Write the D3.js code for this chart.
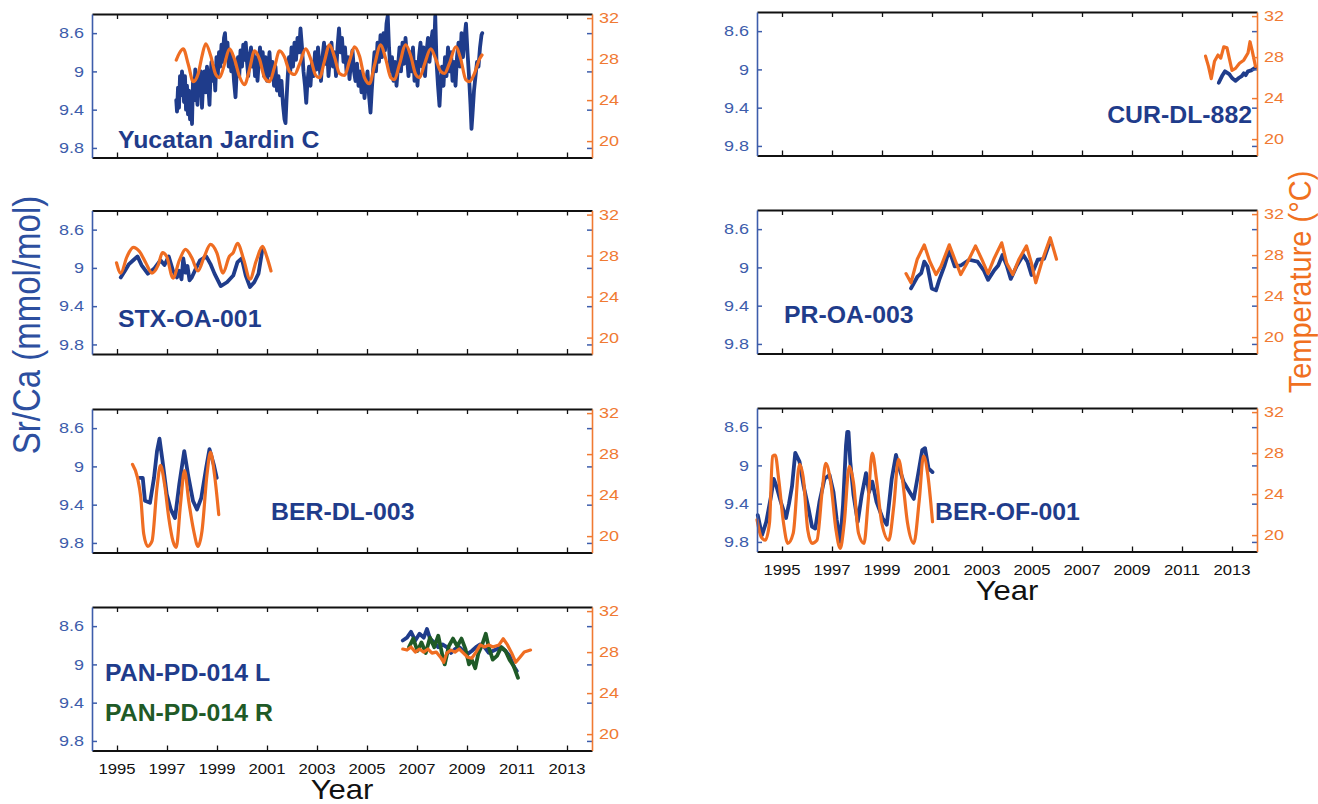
<!DOCTYPE html>
<html>
<head>
<meta charset="utf-8">
<script src="https://cdn.jsdelivr.net/npm/d3@7"></script>
<style>
  html, body { margin: 0; padding: 0; background: #fff; }
  svg { display: block; }
  text { font-family: "Liberation Sans", Arial, Helvetica, sans-serif; }
</style>
</head>
<body>
<svg id="chart" width="1318" height="804"></svg>
<script>
// ---- axis ticks ----
const yearTicks = [1995, 1997, 1999, 2001, 2003, 2005, 2007, 2009, 2011, 2013];
const srcaTicks = [8.6, 9, 9.4, 9.8];
const tempTicks = [20, 24, 28, 32];

// ---- coral records: [decimal year, Sr/Ca mmol/mol] and [decimal year, temperature °C] ----
const yucatanSrCa = [
  [1997.37,9.30],[1997.40,9.42],[1997.44,9.17],[1997.48,9.38],[1997.52,9.05],[1997.56,9.25],[1997.60,9.00],[1997.64,9.10],
  [1997.68,9.32],[1997.72,9.05],[1997.76,9.40],[1997.80,9.15],[1997.84,9.45],[1997.88,9.20],[1997.92,9.50],[1997.96,9.25],
  [1998.00,9.55],[1998.04,9.10],[1998.08,9.30],[1998.13,8.98],[1998.18,9.20],[1998.22,9.35],[1998.27,9.05],[1998.32,9.25],
  [1998.36,9.00],[1998.40,9.38],[1998.45,9.10],[1998.50,9.00],[1998.55,9.22],[1998.60,8.95],[1998.65,9.15],[1998.70,9.35],
  [1998.74,9.05],[1998.78,8.90],[1998.83,9.10],[1998.88,8.95],[1998.93,9.20],[1998.98,8.85],[1999.03,9.05],[1999.08,8.80],
  [1999.13,8.95],[1999.18,8.72],[1999.23,8.90],[1999.28,8.65],[1999.32,8.60],[1999.37,8.85],[1999.42,8.70],[1999.47,8.95],
  [1999.52,8.80],[1999.57,9.00],[1999.62,8.85],[1999.68,9.10],[1999.74,9.27],[1999.79,9.00],[1999.84,8.85],[1999.89,9.05],
  [1999.94,8.78],[2000.00,8.95],[2000.05,8.72],[2000.10,8.88],[2000.15,8.70],[2000.20,8.90],[2000.25,9.05],[2000.30,8.85],
  [2000.36,8.75],[2000.41,8.95],[2000.46,8.80],[2000.52,9.05],[2000.57,8.85],[2000.62,9.10],[2000.67,8.90],[2000.72,8.75],
  [2000.78,8.95],[2000.83,8.80],[2000.88,9.05],[2000.94,8.85],[2001.00,9.10],[2001.05,8.95],[2001.10,8.80],[2001.16,9.05],
  [2001.22,8.90],[2001.28,9.15],[2001.34,8.95],[2001.40,9.20],[2001.46,9.05],[2001.52,9.25],[2001.58,9.10],[2001.64,9.35],
  [2001.70,9.50],[2001.74,9.54],[2001.78,9.30],[2001.83,9.05],[2001.88,8.85],[2001.93,9.00],[2001.98,8.75],[2002.04,8.95],
  [2002.10,8.70],[2002.16,8.88],[2002.22,8.65],[2002.28,8.80],[2002.34,8.55],[2002.40,8.75],[2002.46,9.00],[2002.52,9.15],
  [2002.57,9.33],[2002.62,9.10],[2002.68,8.95],[2002.74,9.15],[2002.80,8.90],[2002.86,9.05],[2002.92,8.80],[2002.98,8.98],
  [2003.04,8.75],[2003.10,8.95],[2003.16,9.10],[2003.22,8.85],[2003.28,8.70],[2003.34,8.92],[2003.40,8.75],[2003.46,9.05],
  [2003.52,8.85],[2003.58,8.70],[2003.64,8.95],[2003.70,8.80],[2003.76,9.05],[2003.82,8.75],[2003.88,8.55],[2003.94,8.80],
  [2004.00,8.65],[2004.06,8.90],[2004.12,8.75],[2004.18,9.00],[2004.24,8.85],[2004.30,9.08],[2004.36,8.90],[2004.42,8.78],
  [2004.48,9.00],[2004.54,9.10],[2004.60,8.92],[2004.66,9.15],[2004.72,9.00],[2004.78,9.22],[2004.84,9.05],[2004.90,9.28],
  [2004.96,9.12],[2005.02,9.00],[2005.08,9.25],[2005.14,9.43],[2005.19,9.20],[2005.24,9.00],[2005.30,8.80],[2005.36,9.00],
  [2005.42,8.70],[2005.48,8.90],[2005.54,8.62],[2005.60,8.85],[2005.66,8.60],[2005.72,8.78],[2005.78,8.50],[2005.83,8.42],
  [2005.88,8.75],[2005.94,9.00],[2006.00,8.85],[2006.06,9.10],[2006.12,8.90],[2006.18,9.15],[2006.24,8.95],[2006.30,8.75],
  [2006.36,9.00],[2006.42,8.70],[2006.48,8.92],[2006.54,8.65],[2006.60,8.85],[2006.66,9.05],[2006.72,8.80],[2006.78,9.00],
  [2006.84,8.75],[2006.90,9.10],[2006.96,8.90],[2007.02,9.15],[2007.08,8.85],[2007.14,8.70],[2007.20,8.95],[2007.26,8.75],
  [2007.32,9.05],[2007.38,8.80],[2007.44,8.65],[2007.50,8.90],[2007.56,8.70],[2007.62,8.58],[2007.68,8.80],[2007.73,8.42],
  [2007.78,8.90],[2007.84,9.15],[2007.90,9.36],[2007.95,9.10],[2008.00,8.95],[2008.06,9.15],[2008.12,8.85],[2008.18,9.05],
  [2008.24,8.75],[2008.30,9.00],[2008.36,8.80],[2008.42,9.10],[2008.48,8.90],[2008.54,9.15],[2008.60,8.85],[2008.66,8.70],
  [2008.72,8.95],[2008.78,8.60],[2008.84,8.85],[2008.90,8.65],[2008.96,8.50],[2009.02,8.80],[2009.08,9.05],[2009.14,9.35],
  [2009.18,9.60],[2009.22,9.45],[2009.28,9.20],[2009.34,9.05],[2009.40,8.90],[2009.46,8.95],[2009.52,8.75],[2009.58,8.62],
  [2009.61,8.60]
];
const yucatanSST = [
  [1997.37,27.9],[1997.50,28.6],[1997.65,29.0],[1997.85,27.5],[1998.05,25.8],[1998.25,26.6],[1998.40,28.3],[1998.55,29.5],
  [1998.75,28.3],[1998.95,26.5],[1999.10,26.2],[1999.30,27.5],[1999.50,29.0],[1999.70,28.0],[1999.90,26.3],[2000.10,25.5],
  [2000.30,27.0],[2000.50,28.8],[2000.70,28.0],[2000.90,26.2],[2001.10,25.8],[2001.30,27.2],[2001.50,28.8],[2001.70,28.2],
  [2001.90,26.8],[2002.10,26.5],[2002.30,27.5],[2002.55,29.0],[2002.75,28.0],[2002.95,26.4],[2003.10,26.2],[2003.30,27.8],
  [2003.50,29.4],[2003.70,28.2],[2003.90,26.6],[2004.10,26.4],[2004.30,27.8],[2004.50,29.2],[2004.70,28.3],[2004.90,26.2],
  [2005.10,25.6],[2005.30,27.4],[2005.55,29.4],[2005.75,28.0],[2005.95,26.2],[2006.10,26.0],[2006.30,27.5],[2006.55,29.4],
  [2006.75,28.3],[2006.95,26.5],[2007.10,26.2],[2007.30,27.5],[2007.55,29.0],[2007.75,28.0],[2007.95,26.8],[2008.10,26.6],
  [2008.30,27.6],[2008.55,29.2],[2008.75,28.0],[2008.95,26.0],[2009.10,25.8],[2009.30,26.6],[2009.50,28.0],[2009.60,28.4]
];

const curSrCa = [
  [2012.47,9.14],[2012.60,9.07],[2012.72,9.02],[2012.89,9.05],[2013.00,9.09],[2013.14,9.12],[2013.27,9.09],
  [2013.39,9.07],[2013.47,9.04],[2013.55,9.06],[2013.64,9.02],[2013.77,9.01],[2013.94,8.98]
];
const curSST = [
  [2011.94,28.1],[2012.06,27.1],[2012.17,25.9],[2012.30,27.6],[2012.44,28.2],[2012.55,27.9],[2012.67,29.0],[2012.80,28.9],
  [2012.89,27.9],[2013.00,26.7],[2013.14,26.9],[2013.30,27.4],[2013.47,27.7],[2013.64,28.4],[2013.72,29.5],[2013.80,28.7],
  [2013.94,27.1]
];

const stxSrCa = [
  [1995.15,9.10],[1995.32,9.03],[1995.48,8.96],[1995.65,8.92],[1995.82,8.88],[1995.98,8.97],[1996.23,9.06],[1996.48,9.01],
  [1996.74,8.92],[1996.90,8.97],[1997.07,8.88],[1997.24,9.03],[1997.40,9.10],[1997.49,9.03],[1997.58,9.12],[1997.65,8.90],
  [1997.74,9.05],[1997.82,8.98],[1997.90,9.13],[1997.99,9.10],[1998.15,9.01],[1998.32,8.92],[1998.57,8.88],[1998.74,8.96],
  [1998.90,9.06],[1999.15,9.19],[1999.40,9.15],[1999.65,9.08],[1999.82,8.94],[1999.99,8.90],[2000.15,9.08],[2000.32,9.20],
  [2000.49,9.15],[2000.66,9.06],[2000.82,8.80]
];
const stxSST = [
  [1994.98,27.3],[1995.15,26.3],[1995.40,27.9],[1995.65,28.8],[1995.90,28.4],[1996.15,27.3],[1996.40,26.3],[1996.65,27.1],
  [1996.82,28.3],[1996.99,27.9],[1997.24,25.8],[1997.49,27.5],[1997.74,28.6],[1997.99,27.8],[1998.24,26.5],[1998.49,27.9],
  [1998.74,29.1],[1998.99,28.3],[1999.24,26.3],[1999.49,27.9],[1999.65,28.3],[1999.82,29.2],[2000.07,27.6],[2000.32,25.7],
  [2000.57,27.5],[2000.82,28.9],[2000.99,27.9],[2001.16,26.5]
];

const prSrCa = [
  [2000.16,9.22],[2000.41,9.10],[2000.57,9.06],[2000.69,8.94],[2000.82,8.99],[2000.99,9.22],[2001.16,9.24],[2001.29,9.13],
  [2001.49,8.99],[2001.69,8.82],[2001.91,8.99],[2002.15,8.98],[2002.49,8.92],[2002.82,8.94],[2003.07,9.03],[2003.24,9.13],
  [2003.49,9.03],[2003.65,8.98],[2003.82,8.87],[2003.99,8.98],[2004.15,9.12],[2004.40,8.98],[2004.65,8.87],[2004.82,8.94],
  [2004.98,9.08],[2005.23,8.92],[2005.48,8.91],[2005.68,8.76]
];
const prSST = [
  [1999.96,26.2],[2000.16,25.3],[2000.41,27.6],[2000.69,29.0],[2000.91,27.4],[2001.16,26.1],[2001.36,26.9],[2001.69,29.0],
  [2001.91,27.6],[2002.15,26.1],[2002.40,27.2],[2002.74,28.9],[2002.99,27.6],[2003.24,26.2],[2003.49,27.7],[2003.79,29.2],
  [2003.99,27.2],[2004.23,26.1],[2004.48,27.6],[2004.78,28.9],[2004.98,27.2],[2005.15,25.3],[2005.40,27.4],[2005.73,29.7],
  [2005.98,27.6]
];

const berDlSrCa = [
  [1995.90,9.12],[1996.03,9.12],[1996.12,9.36],[1996.32,9.38],[1996.48,9.12],[1996.60,8.84],[1996.70,8.71],[1996.82,8.94],
  [1996.99,9.29],[1997.15,9.45],[1997.32,9.54],[1997.49,9.19],[1997.69,8.84],[1997.85,9.10],[1998.04,9.36],[1998.20,9.45],
  [1998.37,9.33],[1998.57,9.01],[1998.70,8.82],[1998.87,8.98],[1998.99,9.12]
];
const berDlSST = [
  [1995.62,27.0],[1995.82,25.7],[1995.95,23.8],[1996.07,20.2],[1996.23,19.0],[1996.40,19.5],[1996.60,24.7],[1996.74,26.9],
  [1996.90,25.1],[1997.07,21.8],[1997.24,19.5],[1997.37,18.9],[1997.54,23.1],[1997.70,26.4],[1997.87,23.4],[1998.07,20.5],
  [1998.24,19.0],[1998.40,20.5],[1998.60,26.0],[1998.74,28.2],[1998.90,26.0],[1999.07,22.1]
];

const berOfSrCa = [
  [1994.03,9.52],[1994.20,9.73],[1994.37,9.59],[1994.57,9.31],[1994.67,9.14],[1994.78,9.22],[1994.95,9.38],[1995.16,9.55],
  [1995.28,9.40],[1995.40,9.22],[1995.53,8.87],[1995.70,8.96],[1995.86,9.21],[1996.06,9.45],[1996.20,9.64],[1996.33,9.66],
  [1996.50,9.38],[1996.70,9.14],[1996.90,9.10],[1997.06,9.28],[1997.19,9.57],[1997.33,9.80],[1997.44,9.42],[1997.56,8.79],
  [1997.61,8.65],[1997.66,8.65],[1997.73,8.96],[1997.86,9.31],[1998.03,9.59],[1998.19,9.31],[1998.36,9.08],[1998.48,9.28],
  [1998.61,9.17],[1998.78,9.38],[1999.02,9.55],[1999.19,9.62],[1999.39,9.14],[1999.56,8.89],[1999.69,9.03],[1999.86,9.17],
  [2000.11,9.28],[2000.27,9.35],[2000.44,9.10],[2000.61,8.84],[2000.72,8.82],[2000.86,9.03],[2001.02,9.07]
];
const berOfSST = [
  [1994.00,21.5],[1994.17,19.8],[1994.33,19.5],[1994.50,21.2],[1994.62,27.7],[1994.73,27.8],[1994.87,25.4],[1995.06,21.2],
  [1995.23,19.2],[1995.45,20.2],[1995.70,26.9],[1995.86,25.4],[1996.03,20.5],[1996.20,19.2],[1996.40,19.5],[1996.61,24.4],
  [1996.75,27.0],[1996.95,25.1],[1997.16,20.5],[1997.33,18.7],[1997.49,21.2],[1997.69,26.7],[1997.86,25.1],[1998.06,20.2],
  [1998.28,19.2],[1998.44,23.1],[1998.61,28.0],[1998.78,25.4],[1998.99,21.2],[1999.27,19.5],[1999.47,22.8],[1999.66,27.4],
  [1999.82,25.4],[2000.02,21.2],[2000.27,19.2],[2000.49,23.4],[2000.66,27.7],[2000.82,26.1],[2001.02,21.3]
];

const panLSrCa = [
  [2006.43,8.75],[2006.60,8.72],[2006.76,8.66],[2006.93,8.75],[2007.10,8.68],[2007.27,8.72],[2007.40,8.63],[2007.52,8.73],
  [2007.69,8.77],[2007.85,8.82],[2008.02,8.79],[2008.19,8.82],[2008.36,8.88],[2008.52,8.84],[2008.69,8.82],[2008.86,8.86],
  [2009.03,8.89],[2009.19,8.86],[2009.36,8.82],[2009.53,8.79],[2009.70,8.82],[2009.87,8.88],[2010.03,8.86],[2010.20,8.84],
  [2010.37,8.82],[2010.54,8.86],[2010.70,8.91],[2010.87,9.02],[2010.99,9.07]
];
const panRSrCa = [
  [2006.68,8.82],[2006.85,8.73],[2007.02,8.86],[2007.18,8.77],[2007.35,8.88],[2007.52,8.72],[2007.69,8.82],[2007.85,8.70],
  [2008.02,8.91],[2008.11,9.00],[2008.27,8.81],[2008.44,8.73],[2008.61,8.81],[2008.78,8.73],[2008.94,8.84],[2009.08,9.00],
  [2009.19,8.95],[2009.33,9.04],[2009.45,8.89],[2009.61,8.79],[2009.75,8.68],[2009.87,8.82],[2010.03,8.95],[2010.20,8.91],
  [2010.37,8.82],[2010.54,8.86],[2010.70,8.95],[2010.87,9.02],[2011.04,9.14]
];
const panSST = [
  [2006.43,28.3],[2006.60,28.2],[2006.76,28.5],[2006.93,28.0],[2007.10,28.3],[2007.27,28.0],[2007.44,28.3],[2007.60,27.9],
  [2007.77,28.0],[2007.94,27.5],[2008.07,27.0],[2008.19,27.9],[2008.36,28.2],[2008.52,28.0],[2008.69,28.3],[2008.86,27.9],
  [2009.03,27.5],[2009.19,27.4],[2009.36,28.0],[2009.53,28.7],[2009.70,28.5],[2009.87,28.7],[2010.03,28.5],[2010.28,28.7],
  [2010.45,29.3],[2010.62,28.7],[2010.79,27.9],[2010.95,27.0],[2011.12,27.5],[2011.29,28.0],[2011.54,28.2]
];

// ---- styling ----
const BLUE = "#1f3c8b", GREEN = "#1f5a27", ORANGE = "#ef6d22";
const AX_BLUE = "#3d5dab", AX_ORANGE = "#f07a32";
const SX = 1.15;      // horizontal stretch of the figure's lettering
const SXY = 1.2;      // stretch used for the value-axis numbers
const SXB = 1.08;

const PW = 500, PH = 143.5;
const COL_X = [92, 757];

const panels = [
  { col: 0, top: 14,    name: "Yucatan Jardin C", lx: 118, ly: 148,
    sr: [{ d: yucatanSrCa, c: BLUE }], sst: yucatanSST, smooth: true },
  { col: 1, top: 12,    name: "CUR-DL-882", lx: 1252, ly: 123, anchor: "end",
    sr: [{ d: curSrCa, c: BLUE }], sst: curSST, smooth: false },
  { col: 0, top: 210.5, name: "STX-OA-001", lx: 118, ly: 327,
    sr: [{ d: stxSrCa, c: BLUE }], sst: stxSST, smooth: true },
  { col: 1, top: 210,   name: "PR-OA-003", lx: 784, ly: 323,
    sr: [{ d: prSrCa, c: BLUE }], sst: prSST, smooth: false },
  { col: 0, top: 409,   name: "BER-DL-003", lx: 271, ly: 520,
    sr: [{ d: berDlSrCa, c: BLUE }], sst: berDlSST, smooth: true },
  { col: 1, top: 408,   name: "BER-OF-001", lx: 935, ly: 520, years: true,
    sr: [{ d: berOfSrCa, c: BLUE }], sst: berOfSST, smooth: true },
  { col: 0, top: 607,   name: "PAN-PD-014 L", lx: 105, ly: 681, years: true,
    extra: { name: "PAN-PD-014 R", lx: 105, ly: 721, c: GREEN },
    sr: [{ d: panLSrCa, c: BLUE }, { d: panRSrCa, c: GREEN }], sst: panSST, smooth: false }
];

const svg = d3.select("#chart");

function txt(parent, x, y, s, o) {
  const sx = o.sx || SX;
  const tf = o.rotate
    ? `translate(${x},${y}) rotate(${o.rotate}) scale(1,${sx})`
    : `translate(${x},${y}) scale(${sx},1)`;
  return parent.append("text")
    .attr("transform", tf)
    .attr("text-anchor", o.anchor || "start")
    .attr("font-size", o.size)
    .attr("font-weight", o.weight || "normal")
    .attr("fill", o.fill || "#000")
    .text(s);
}

panels.forEach(p => {
  const x0 = COL_X[p.col], x1 = x0 + PW;
  const y0 = p.top, y1 = p.top + PH;
  const x = d3.scaleLinear().domain([1994, 2014]).range([x0, x1]);
  const ySr = d3.scaleLinear().domain([8.4, 9.9]).range([y0, y1]);
  const yT = d3.scaleLinear().domain([18.4, 32.4]).range([y1, y0]);
  const g = svg.append("g");

  // data lines
  p.sr.forEach(s => {
    g.append("path").datum(s.d)
      .attr("fill", "none").attr("stroke", s.c).attr("stroke-width", 3.8)
      .attr("stroke-linejoin", "round").attr("stroke-linecap", "round")
      .attr("d", d3.line().x(d => x(d[0])).y(d => ySr(d[1])));
  });
  g.append("path").datum(p.sst)
    .attr("fill", "none").attr("stroke", ORANGE).attr("stroke-width", 3.2)
    .attr("stroke-linejoin", "round").attr("stroke-linecap", "round")
    .attr("d", d3.line().curve(p.smooth ? d3.curveMonotoneX : d3.curveLinear)
      .x(d => x(d[0])).y(d => yT(d[1])));

  // year axes top and bottom (inward ticks)
  const xb = g.append("g").attr("transform", `translate(0,${y1})`)
    .call(d3.axisBottom(x).tickValues(yearTicks).tickSize(-5).tickSizeOuter(0).tickFormat(""));
  const xt = g.append("g").attr("transform", `translate(0,${y0})`)
    .call(d3.axisTop(x).tickValues(yearTicks).tickSize(-5).tickSizeOuter(0).tickFormat(""));
  [xb, xt].forEach(a => {
    a.select(".domain").attr("stroke", "#111").attr("stroke-width", 2);
    a.selectAll(".tick line").attr("stroke", "#111").attr("stroke-width", 1.3);
  });

  // Sr/Ca axis on the left, mirrored ticks on the right
  const yl = g.append("g").attr("transform", `translate(${x0},0)`)
    .call(d3.axisLeft(ySr).tickValues(srcaTicks).tickSize(-5).tickSizeOuter(0).tickFormat(""));
  yl.select(".domain").attr("stroke", AX_BLUE).attr("stroke-width", 1.6);
  yl.selectAll(".tick line").attr("stroke", AX_BLUE).attr("stroke-width", 1.5);
  const yr2 = g.append("g").attr("transform", `translate(${x1},0)`)
    .call(d3.axisRight(ySr).tickValues(srcaTicks).tickSize(-5).tickSizeOuter(0).tickFormat(""));
  yr2.select(".domain").remove();
  yr2.selectAll(".tick line").attr("stroke", AX_BLUE).attr("stroke-width", 1.5);

  // temperature axis on the right
  const yr = g.append("g").attr("transform", `translate(${x1},0)`)
    .call(d3.axisRight(yT).tickValues(tempTicks).tickSize(-5).tickSizeOuter(0).tickFormat(""));
  yr.select(".domain").attr("stroke", AX_ORANGE).attr("stroke-width", 1.6);
  yr.selectAll(".tick line").attr("stroke", AX_ORANGE).attr("stroke-width", 1.5);

  // tick labels
  g.selectAll(".srl").data(srcaTicks).join("text")
    .attr("transform", d => `translate(${x0 - 8},${ySr(d) + 5.3}) scale(${SXY},1)`)
    .attr("text-anchor", "end").attr("font-size", 15).attr("fill", AX_BLUE)
    .text(d => String(d));
  g.selectAll(".tl").data(tempTicks).join("text")
    .attr("transform", d => `translate(${x1 + 7},${yT(d) + 5.3}) scale(${SXY},1)`)
    .attr("text-anchor", "start").attr("font-size", 15).attr("fill", AX_ORANGE)
    .text(d => String(d));

  if (p.years) {
    g.selectAll(".yr").data(yearTicks).join("text")
      .attr("transform", d => `translate(${x(d)},${y1 + 23}) scale(${SX},1)`)
      .attr("text-anchor", "middle").attr("font-size", 14.5).attr("fill", "#111")
      .text(d => String(d));
    txt(g, (x0 + x1) / 2, y1 + 48, "Year", { size: 27, anchor: "middle", fill: "#111" });
  }

  // record names
  txt(g, p.lx, p.ly, p.name, { size: 23, weight: "bold", fill: BLUE, anchor: p.anchor, sx: SXB });
  if (p.extra) {
    txt(g, p.extra.lx, p.extra.ly, p.extra.name, { size: 23, weight: "bold", fill: p.extra.c, sx: SXB });
  }
});

// shared axis titles
txt(svg, 40, 325, "Sr/Ca (mmol/mol)", { size: 33, anchor: "middle", fill: "#2d4f9f", rotate: -90 });
txt(svg, 1311, 282, "Temperature (°C)", { size: 29, anchor: "middle", fill: "#f07020", rotate: -90, sx: 1.08 });
</script>
</body>
</html>
